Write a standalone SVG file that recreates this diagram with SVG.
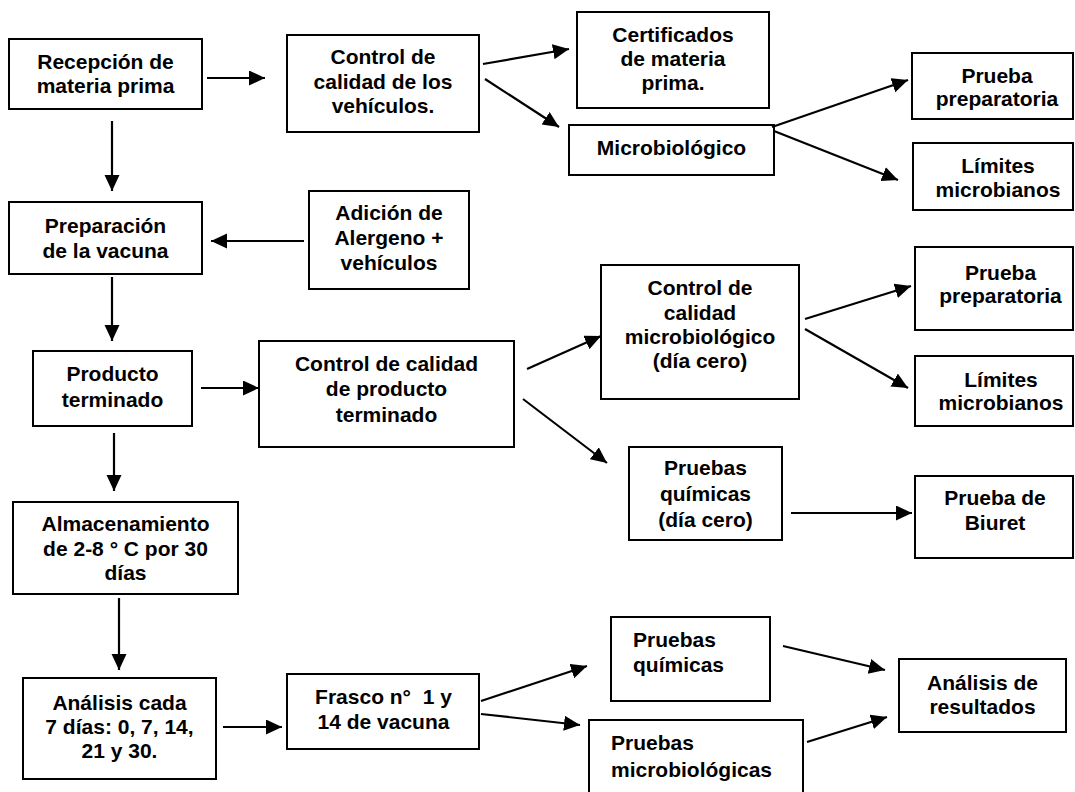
<svg xmlns="http://www.w3.org/2000/svg" width="1075" height="792" viewBox="0 0 1075 792">
  <style>
    .box { fill: #fff; stroke: #000; stroke-width: 2; }
    .lbl { font-family: "Liberation Sans", Arial, sans-serif; font-weight: bold; font-size: 21px; fill: #000; text-anchor: middle; }
    .lft { text-anchor: start; }
    .arrow { stroke: #000; stroke-width: 2.2; fill: none; marker-end: url(#head); }
  </style>
  <defs>
    <marker id="head" markerUnits="userSpaceOnUse" markerWidth="18" markerHeight="16" refX="16" refY="7.5" orient="auto">
      <path d="M0,0 L16,7.5 L0,15 z" fill="#000"/>
    </marker>
  </defs>
  <rect width="1075" height="792" fill="#fff"/>

  <g id="recepcion">
    <rect class="box" x="9" y="39" width="193" height="70"/>
    <text class="lbl" x="105.5" y="69">Recepción de</text>
    <text class="lbl" x="105.5" y="93">materia prima</text>
  </g>
  <g id="control-vehiculos">
    <rect class="box" x="287" y="35" width="192" height="97"/>
    <text class="lbl" x="383" y="64">Control de</text>
    <text class="lbl" x="383" y="89">calidad de los</text>
    <text class="lbl" x="383" y="113">vehículos.</text>
  </g>
  <g id="certificados">
    <rect class="box" x="577" y="12" width="192" height="96"/>
    <text class="lbl" x="673" y="42">Certificados</text>
    <text class="lbl" x="673" y="66">de materia</text>
    <text class="lbl" x="673" y="90">prima.</text>
  </g>
  <g id="microbiologico">
    <rect class="box" x="569" y="125" width="205" height="50"/>
    <text class="lbl" x="671.5" y="155">Microbiológico</text>
  </g>
  <g id="prueba-preparatoria-1">
    <rect class="box" x="912" y="53" width="161" height="66"/>
    <text class="lbl" x="997" y="83">Prueba</text>
    <text class="lbl" x="997" y="106">preparatoria</text>
  </g>
  <g id="limites-1">
    <rect class="box" x="913" y="143" width="160" height="67"/>
    <text class="lbl" x="998" y="173">Límites</text>
    <text class="lbl" x="998" y="197">microbianos</text>
  </g>
  <g id="preparacion">
    <rect class="box" x="9" y="202" width="193" height="72"/>
    <text class="lbl" x="105.5" y="233">Preparación</text>
    <text class="lbl" x="105.5" y="258">de la vacuna</text>
  </g>
  <g id="adicion">
    <rect class="box" x="309" y="191" width="160" height="98"/>
    <text class="lbl" x="389" y="220">Adición de</text>
    <text class="lbl" x="389" y="245">Alergeno +</text>
    <text class="lbl" x="389" y="270">vehículos</text>
  </g>
  <g id="producto">
    <rect class="box" x="33" y="351" width="159" height="75"/>
    <text class="lbl" x="112.5" y="381">Producto</text>
    <text class="lbl" x="112.5" y="407">terminado</text>
  </g>
  <g id="control-producto">
    <rect class="box" x="259" y="341" width="255" height="106"/>
    <text class="lbl" x="386.5" y="371">Control de calidad</text>
    <text class="lbl" x="386.5" y="396">de producto</text>
    <text class="lbl" x="386.5" y="422">terminado</text>
  </g>
  <g id="control-microbiologico">
    <rect class="box" x="601" y="265" width="198" height="134"/>
    <text class="lbl" x="700" y="295">Control de</text>
    <text class="lbl" x="700" y="320">calidad</text>
    <text class="lbl" x="700" y="344">microbiológico</text>
    <text class="lbl" x="700" y="368">(día cero)</text>
  </g>
  <g id="pruebas-quimicas-dia-cero">
    <rect class="box" x="629" y="447" width="153" height="93"/>
    <text class="lbl" x="705.5" y="475">Pruebas</text>
    <text class="lbl" x="705.5" y="501">químicas</text>
    <text class="lbl" x="705.5" y="527">(día cero)</text>
  </g>
  <g id="prueba-preparatoria-2">
    <rect class="box" x="915" y="247" width="158" height="83"/>
    <text class="lbl" x="1000.5" y="280">Prueba</text>
    <text class="lbl" x="1000.5" y="303">preparatoria</text>
  </g>
  <g id="limites-2">
    <rect class="box" x="915" y="356" width="158" height="70"/>
    <text class="lbl" x="1001" y="387">Límites</text>
    <text class="lbl" x="1001" y="410">microbianos</text>
  </g>
  <g id="biuret">
    <rect class="box" x="915" y="476" width="158" height="82"/>
    <text class="lbl" x="995" y="505">Prueba de</text>
    <text class="lbl" x="995" y="530">Biuret</text>
  </g>
  <g id="almacenamiento">
    <rect class="box" x="13" y="502" width="225" height="92"/>
    <text class="lbl" x="125.5" y="531">Almacenamiento</text>
    <text class="lbl" x="125.5" y="556">de 2-8 ° C por 30</text>
    <text class="lbl" x="125.5" y="580">días</text>
  </g>
  <g id="analisis-cada">
    <rect class="box" x="23" y="678" width="193" height="101"/>
    <text class="lbl" x="119.5" y="710">Análisis cada</text>
    <text class="lbl" x="119.5" y="734">7 días: 0, 7, 14,</text>
    <text class="lbl" x="119.5" y="758">21 y 30.</text>
  </g>
  <g id="frasco">
    <rect class="box" x="287" y="674" width="192" height="75"/>
    <text class="lbl" x="383.5" y="704">Frasco n°&#160; 1 y</text>
    <text class="lbl" x="383.5" y="729">14 de vacuna</text>
  </g>
  <g id="pruebas-quimicas">
    <rect class="box" x="611" y="617" width="159" height="84"/>
    <text class="lbl lft" x="633" y="647">Pruebas</text>
    <text class="lbl lft" x="633" y="672">químicas</text>
  </g>
  <g id="pruebas-microbiologicas">
    <rect class="box" x="589" y="720" width="214" height="80"/>
    <text class="lbl lft" x="611" y="750">Pruebas</text>
    <text class="lbl lft" x="611" y="777">microbiológicas</text>
  </g>
  <g id="analisis-resultados">
    <rect class="box" x="899" y="659" width="167" height="73"/>
    <text class="lbl" x="982.5" y="690">Análisis de</text>
    <text class="lbl" x="982.5" y="714">resultados</text>
  </g>

  <g id="connectors">
    <line class="arrow" x1="207" y1="78" x2="265" y2="78"/>
    <line class="arrow" x1="483" y1="64" x2="569" y2="49"/>
    <line class="arrow" x1="485" y1="79" x2="559" y2="127"/>
    <line class="arrow" x1="772" y1="127" x2="908" y2="80"/>
    <line class="arrow" x1="774" y1="131" x2="898" y2="180"/>
    <line class="arrow" x1="112" y1="121" x2="112" y2="191"/>
    <line class="arrow" x1="304" y1="241" x2="211" y2="241"/>
    <line class="arrow" x1="112" y1="277" x2="112" y2="341"/>
    <line class="arrow" x1="201" y1="388" x2="259" y2="388"/>
    <line class="arrow" x1="527" y1="369" x2="601" y2="336"/>
    <line class="arrow" x1="523" y1="399" x2="607" y2="463"/>
    <line class="arrow" x1="805" y1="319" x2="911" y2="286"/>
    <line class="arrow" x1="805" y1="329" x2="908" y2="388"/>
    <line class="arrow" x1="791" y1="513" x2="912" y2="513"/>
    <line class="arrow" x1="114" y1="433" x2="114" y2="491"/>
    <line class="arrow" x1="119" y1="598" x2="119" y2="670"/>
    <line class="arrow" x1="223" y1="727" x2="282" y2="727"/>
    <line class="arrow" x1="481" y1="701" x2="587" y2="666"/>
    <line class="arrow" x1="481" y1="714" x2="580" y2="725"/>
    <line class="arrow" x1="783" y1="646" x2="885" y2="670"/>
    <line class="arrow" x1="807" y1="742" x2="887" y2="717"/>
  </g>
</svg>
